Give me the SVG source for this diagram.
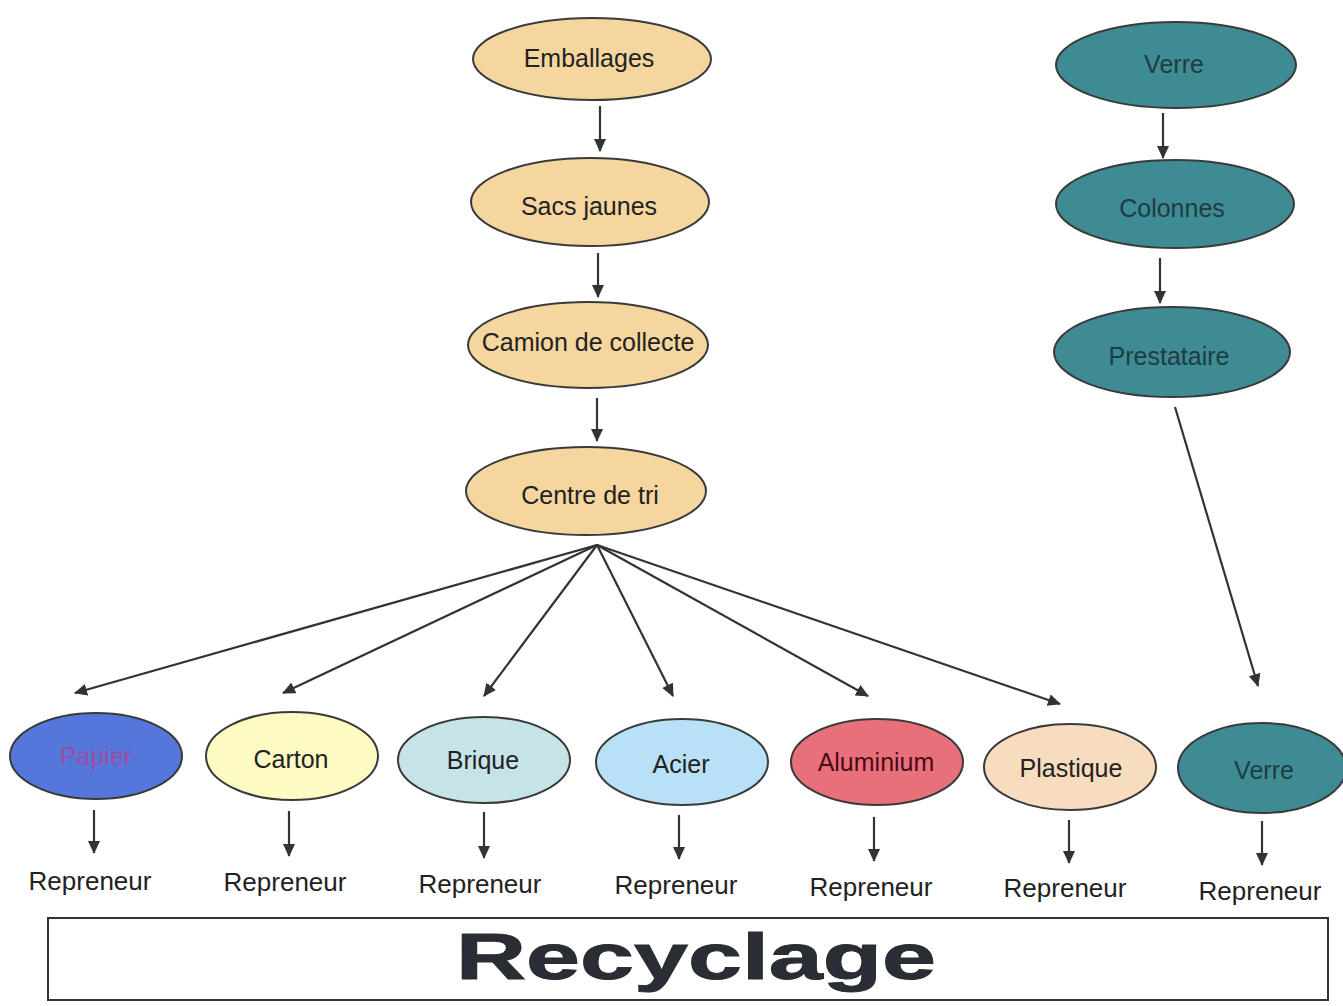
<svg xmlns="http://www.w3.org/2000/svg" width="1343" height="1006" viewBox="0 0 1343 1006">
<defs>
<marker id="ah" markerUnits="userSpaceOnUse" markerWidth="14" markerHeight="14" refX="12" refY="6" orient="auto">
<path d="M0,0 L13,6 L0,12 z" fill="#333"/>
</marker>
<style>
.n ellipse{stroke:#3a3a3a;stroke-width:2}
.t{font-family:"Liberation Sans",Arial,sans-serif;font-size:25px;text-anchor:middle;fill:#222}
.r{font-family:"Liberation Sans",Arial,sans-serif;font-size:26px;text-anchor:middle;fill:#222}
.or{fill:#f4d69e}
.tl{fill:#3f8b94}
.tt{fill:#1e3c42}
#conn line{stroke:#333;stroke-width:2.2;marker-end:url(#ah)}
</style>
</defs>
<rect width="1343" height="1006" fill="#fff"/>

<g id="conn">
<line x1="600" y1="106" x2="600" y2="151"/>
<line x1="598" y1="253" x2="598" y2="297"/>
<line x1="597" y1="398" x2="597" y2="441"/>
<line x1="597" y1="545" x2="75" y2="693"/>
<line x1="597" y1="545" x2="283" y2="693"/>
<line x1="597" y1="545" x2="484" y2="696"/>
<line x1="597" y1="545" x2="673" y2="696"/>
<line x1="597" y1="545" x2="868" y2="696"/>
<line x1="597" y1="545" x2="1060" y2="704"/>
<line x1="1163" y1="113" x2="1163" y2="158"/>
<line x1="1160" y1="258" x2="1160" y2="303"/>
<line x1="1175" y1="407" x2="1258" y2="686"/>
<line x1="94" y1="810" x2="94" y2="853"/>
<line x1="289" y1="811" x2="289" y2="856"/>
<line x1="484" y1="812" x2="484" y2="858"/>
<line x1="679" y1="815" x2="679" y2="859"/>
<line x1="874" y1="817" x2="874" y2="861"/>
<line x1="1069" y1="820" x2="1069" y2="863"/>
<line x1="1262" y1="821" x2="1262" y2="865"/>
</g>

<g id="emballages" class="n"><ellipse class="or" cx="592" cy="59" rx="119" ry="41"/><text class="t" x="589" y="67">Emballages</text></g>
<g id="sacs-jaunes" class="n"><ellipse class="or" cx="590" cy="202" rx="119" ry="44"/><text class="t" x="589" y="215">Sacs jaunes</text></g>
<g id="camion" class="n"><ellipse class="or" cx="588" cy="345" rx="120" ry="43"/><text class="t" x="588" y="351">Camion de collecte</text></g>
<g id="centre-tri" class="n"><ellipse class="or" cx="586" cy="491" rx="120" ry="44"/><text class="t" x="590" y="504">Centre de tri</text></g>

<g id="verre-top" class="n"><ellipse class="tl" cx="1176" cy="65" rx="120" ry="43"/><text class="t tt" x="1174" y="73">Verre</text></g>
<g id="colonnes" class="n"><ellipse class="tl" cx="1175" cy="204" rx="119" ry="44"/><text class="t tt" x="1172" y="217">Colonnes</text></g>
<g id="prestataire" class="n"><ellipse class="tl" cx="1172" cy="352" rx="118" ry="45"/><text class="t tt" x="1169" y="365">Prestataire</text></g>

<g id="papier" class="n"><ellipse fill="#5577dc" stroke="#5577dc" cx="96" cy="756" rx="86" ry="43"/><text class="t" style="fill:#9a4f9e" x="96" y="765">Papier</text></g>
<g id="carton" class="n"><ellipse fill="#fdfac2" cx="292" cy="756" rx="86" ry="44"/><text class="t" x="291" y="768">Carton</text></g>
<g id="brique" class="n"><ellipse fill="#c6e4e8" cx="484" cy="760" rx="86" ry="43"/><text class="t" x="483" y="769">Brique</text></g>
<g id="acier" class="n"><ellipse fill="#b8e1f7" cx="682" cy="762" rx="86" ry="43"/><text class="t" x="681" y="773">Acier</text></g>
<g id="aluminium" class="n"><ellipse fill="#e8707b" cx="877" cy="762" rx="86" ry="43"/><text class="t" style="fill:#4a0a18" x="876" y="771">Aluminium</text></g>
<g id="plastique" class="n"><ellipse fill="#f8dcc0" cx="1070" cy="767" rx="86" ry="43"/><text class="t" x="1071" y="777">Plastique</text></g>
<g id="verre-bottom" class="n"><ellipse class="tl" cx="1262" cy="768" rx="84" ry="45"/><text class="t tt" x="1264" y="779">Verre</text></g>

<g id="repreneurs">
<text class="r" x="90" y="890">Repreneur</text>
<text class="r" x="285" y="891">Repreneur</text>
<text class="r" x="480" y="893">Repreneur</text>
<text class="r" x="676" y="894">Repreneur</text>
<text class="r" x="871" y="896">Repreneur</text>
<text class="r" x="1065" y="897">Repreneur</text>
<text class="r" x="1260" y="900">Repreneur</text>
</g>

<g id="recyclage">
<rect x="48" y="918" width="1280" height="82" fill="#fff" stroke="#333" stroke-width="2"/>
<text x="696" y="979" font-family="'Liberation Sans',Arial,sans-serif" font-weight="900" font-size="64" fill="#2a2d33" text-anchor="middle" textLength="480" lengthAdjust="spacingAndGlyphs" stroke="#2a2d33" stroke-width="1">Recyclage</text>
</g>
</svg>
